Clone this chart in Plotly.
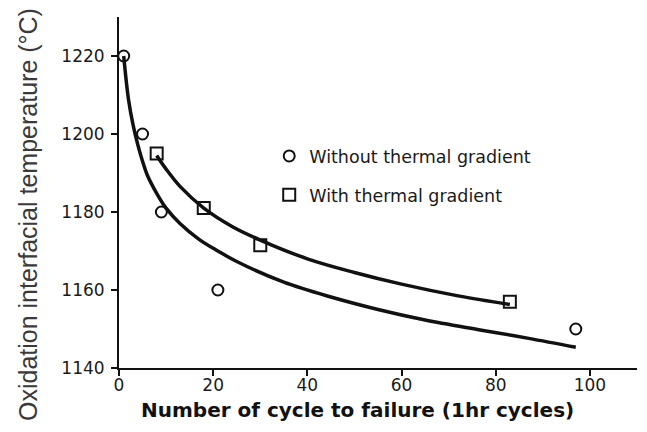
import plotly.graph_objects as go

# measured points
no_grad_x = [1, 5, 9, 21, 97]
no_grad_y = [1220, 1200, 1180, 1160, 1150]
grad_x = [8, 18, 30, 83]
grad_y = [1195, 1181, 1171.5, 1157]

# fitted trend lines
fit_no_grad_x = [1, 2, 3, 4, 5, 6, 8, 10, 13, 17, 21, 25, 35, 45, 55, 65, 77, 87, 97]
fit_no_grad_y = [1220, 1209, 1202.3, 1197.2, 1193, 1189.5, 1184.8, 1181, 1177,
                 1173, 1170, 1167.3, 1162, 1158.2, 1155, 1152.3, 1149.7, 1147.6,
                 1145.3]
fit_grad_x = [8, 10, 13, 18, 24, 30, 40, 50, 60, 72, 83]
fit_grad_y = [1194.5, 1191, 1186.5, 1181, 1176.3, 1172.8, 1168, 1164.5,
              1161.5, 1158.5, 1156.3]

x_ticks = [0, 20, 40, 60, 80, 100]
y_ticks = [1140, 1160, 1180, 1200, 1220]

INK = "#111111"
L, T, PW, PH = 111, 9, 518, 351   # plot box in figure px (page adds ~8px body margin)

fig = go.Figure()
fig.add_trace(go.Scatter(
    x=fit_no_grad_x, y=fit_no_grad_y, mode="lines", line_shape="spline",
    line=dict(color=INK, width=3.5), showlegend=False, hoverinfo="skip",
))
fig.add_trace(go.Scatter(
    x=fit_grad_x, y=fit_grad_y, mode="lines", line_shape="spline",
    line=dict(color=INK, width=3.5), showlegend=False, hoverinfo="skip",
))
fig.add_trace(go.Scatter(
    x=no_grad_x, y=no_grad_y, mode="markers", name="Without thermal gradient",
    legendgroup="a",
    marker=dict(symbol="circle-open", size=11, color=INK, line=dict(width=2)),
))
fig.add_trace(go.Scatter(
    x=grad_x, y=grad_y, mode="markers", name="With thermal gradient",
    legendgroup="b",
    marker=dict(symbol="square-open", size=12, color=INK, line=dict(width=2)),
))

axis_style = dict(
    showline=True, linecolor=INK, linewidth=2, showgrid=False, zeroline=False,
    ticks="outside", ticklen=6, tickwidth=2, tickcolor=INK,
    tickfont=dict(family="DejaVu Sans", size=17, color="#1a1a1a"),
)

fig.update_layout(
    width=639, height=424,
    margin=dict(l=L, r=639 - L - PW, t=T, b=424 - T - PH),
    paper_bgcolor="white", plot_bgcolor="white",
    xaxis=dict(range=[0, 110], tickvals=x_ticks, ticklabelstandoff=-5,
               **axis_style),
    yaxis=dict(range=[1140, 1230], tickvals=y_ticks, ticklabelstandoff=3,
               **axis_style),
    legend=dict(x=0.29, y=0.655, xanchor="left", yanchor="top",
                bgcolor="rgba(0,0,0,0)", tracegroupgap=13,
                font=dict(family="DejaVu Sans", size=17.5, color="#1a1a1a")),
    annotations=[
        dict(text="Oxidation interfacial temperature (°C)",
             textangle=-90, xref="paper", yref="paper",
             x=(20 - L) / PW, y=1 - (207 - T) / PH,
             xanchor="center", yanchor="middle", showarrow=False,
             font=dict(family="Liberation Sans", size=25, color="#3a3a3a")),
        dict(text="<b>Number of cycle to failure (1hr cycles)</b>",
             xref="paper", yref="paper",
             x=(349 - L) / PW, y=1 - (402 - T) / PH,
             xanchor="center", yanchor="middle", showarrow=False,
             font=dict(family="DejaVu Sans", size=20, color="#111111")),
    ],
)

fig.write_html("out.html")
